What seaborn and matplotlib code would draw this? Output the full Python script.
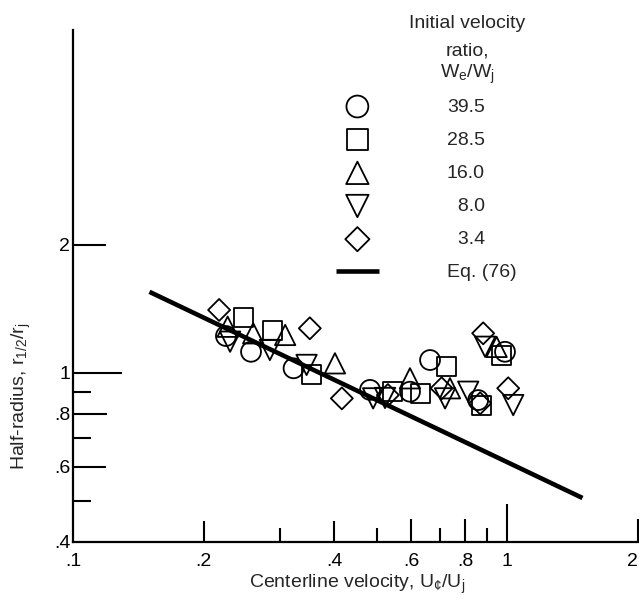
import matplotlib
matplotlib.use("Agg")
import matplotlib.pyplot as plt
from matplotlib import font_manager
from matplotlib.ticker import FixedLocator, FixedFormatter, NullFormatter
import seaborn as sns

# Centerline velocity U_cl/U_j and half-radius r_1/2 / r_j, one pair of lists per
# initial velocity ratio W_e/W_j
u_395 = [0.225, 0.257, 0.322, 0.483, 0.597, 0.664, 0.857, 0.988]
r_395 = [1.22, 1.12, 1.024, 0.911, 0.902, 1.071, 0.862, 1.12]

u_285 = [0.247, 0.288, 0.354, 0.543, 0.63, 0.725, 0.873, 0.971]
r_285 = [1.35, 1.256, 0.988, 0.901, 0.894, 1.033, 0.839, 1.10]

u_160 = [0.227, 0.26, 0.308, 0.401, 0.597, 0.738, 0.945]
r_160 = [1.283, 1.238, 1.227, 1.052, 0.97, 0.919, 1.15]

u_80 = [0.23, 0.284, 0.345, 0.491, 0.523, 0.719, 0.813, 0.889, 1.032]
r_80 = [1.183, 1.131, 1.043, 0.87, 0.872, 0.87, 0.902, 1.151, 0.839]

u_34 = [0.217, 0.351, 0.416, 0.531, 0.706, 0.866, 0.88, 1.005]
r_34 = [1.405, 1.272, 0.87, 0.886, 0.919, 0.847, 1.238, 0.919]

# Eq. (76) correlation line end points
eq_u = [0.15, 1.49]
eq_r = [1.55, 0.507]

ratio_labels = ["39.5", "28.5", "16.0", "\u20078.0", "\u20073.4"]
eq_label = "Eq. (76)"

x_ticks = [0.1, 0.2, 0.4, 0.6, 0.8, 1.0, 2.0]
x_ticklabels = [".1", ".2", ".4", ".6", ".8", "1", "2"]
x_minor = [0.3, 0.5, 0.7, 0.9]
y_ticks = [0.4, 0.6, 0.8, 1.0, 2.0]
y_ticklabels = [".4", ".6", ".8", "1", "2"]
y_minor = [0.5, 0.7, 0.9]

sns.set_style("ticks")
names = {f.name for f in font_manager.fontManager.ttflist}
family = "Liberation Sans" if "Liberation Sans" in names else "DejaVu Sans"
plt.rcParams["font.family"] = [family, "DejaVu Sans"]
plt.rcParams["mathtext.fontset"] = "custom"
plt.rcParams["mathtext.rm"] = family
plt.rcParams["mathtext.it"] = family
FS = 14

W, H = 639, 604
fig = plt.figure(figsize=(W / 100, H / 100), dpi=100)
ax = fig.add_axes([73 / W, (H - 541.7) / H, (638 - 73) / W, (541.7 - 30) / H])
ax.set_xscale("log")
ax.set_yscale("log")

series = [
    (u_395, r_395, "o", 205),
    (u_285, r_285, "s", 185),
    (u_160, r_160, "^", 215),
    (u_80, r_80, "v", 215),
    (u_34, r_34, "D", 125),
]
handles = []
for (u, r, mk, s), lab in zip(series, ratio_labels):
    sns.scatterplot(x=u, y=r, marker=mk, s=s, color="black", facecolor="none",
                    edgecolor="black", linewidth=1.3, label=lab, legend=False,
                    ax=ax, zorder=3)
    handles.append(ax.collections[-1])

sns.lineplot(x=eq_u, y=eq_r, color="black", linewidth=3.3, label=eq_label,
             legend=False, ax=ax, solid_capstyle="butt", zorder=2)
handles.append(ax.get_lines()[-1])

ax.set_xlim(0.1, 2.0)
ax.set_ylim(0.4, 6.41)

for side in ("top", "right"):
    ax.spines[side].set_visible(False)
for side in ("left", "bottom"):
    ax.spines[side].set_linewidth(1.6)
    ax.spines[side].set_color("black")

ax.xaxis.set_major_locator(FixedLocator(x_ticks))
ax.xaxis.set_major_formatter(FixedFormatter(x_ticklabels))
ax.xaxis.set_minor_locator(FixedLocator(x_minor))
ax.xaxis.set_minor_formatter(NullFormatter())
ax.yaxis.set_major_locator(FixedLocator(y_ticks))
ax.yaxis.set_major_formatter(FixedFormatter(y_ticklabels))
ax.yaxis.set_minor_locator(FixedLocator(y_minor))
ax.yaxis.set_minor_formatter(NullFormatter())

ax.tick_params(which="both", direction="in", width=1.5, color="black",
               labelsize=FS, labelcolor="black")
ax.tick_params(axis="x", which="major", pad=8)
ax.tick_params(axis="y", which="major", pad=2)

ax.set_xlabel(r"Centerline velocity, $\mathregular{U_{¢}/U_j}$", fontsize=FS,
              va="center")
ax.xaxis.set_label_coords(0.503, -0.083)
ax.set_ylabel(r"Half-radius, $\mathregular{r_{1/2}/r_j}$", fontsize=FS,
              va="center")
ax.yaxis.set_label_coords(-0.092, 0.285)

# legend title block
title_lines = ["Initial velocity", "ratio,", r"$\mathregular{W_e/W_j}$"]
for txt, yb in zip(title_lines, [28, 55, 78]):
    fig.text(467 / W, 1 - yb / H, txt, ha="center", va="baseline", fontsize=FS)

leg = ax.legend(handles=handles, labels=ratio_labels + [eq_label],
                loc="upper left", bbox_to_anchor=(336 / W, 1 - 98 / H),
                bbox_transform=fig.transFigure, frameon=False, fontsize=FS,
                borderpad=0, borderaxespad=0, handlelength=2.2,
                handletextpad=3.5, labelspacing=0.8, markerscale=1.1,
                scatterpoints=1)

# individual tick lengths (points)
px = 0.72
x_len = [0, 21, 21, 23, 23, 38, 23]
for t, L in zip(ax.xaxis.get_major_ticks(), x_len):
    t.tick1line.set_markersize(L * px)
for t in ax.xaxis.get_minor_ticks():
    t.tick1line.set_markersize(14 * px)
y_len = [0, 33, 34, 49, 33]
for t, L in zip(ax.yaxis.get_major_ticks(), y_len):
    t.tick1line.set_markersize(L * px)
for t in ax.yaxis.get_minor_ticks():
    t.tick1line.set_markersize(18 * px)

# keep the label of the right-most tick inside the figure edge
ax.xaxis.get_major_ticks()[-1].label1.set_horizontalalignment("right")

fig.savefig("out.png", dpi=100, facecolor="white")
